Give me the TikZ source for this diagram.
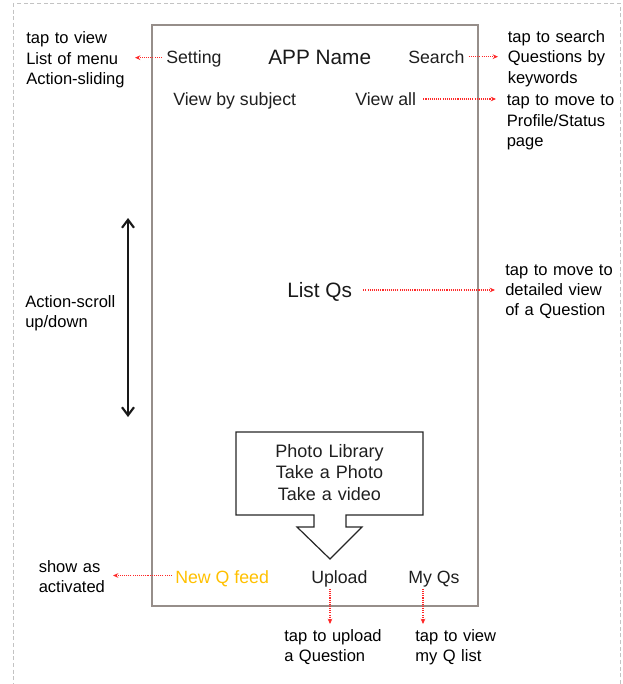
\documentclass[tikz,border=0pt]{standalone}
\usepackage{fontspec}
\setmainfont{Liberation Sans}
\usetikzlibrary{arrows.meta}
\definecolor{framec}{RGB}{150,142,138}
\definecolor{activec}{RGB}{255,192,0}
\definecolor{outerc}{RGB}{195,195,195}
\definecolor{tapc}{RGB}{255,40,40}
\begin{document}
\begin{tikzpicture}[x=0.75pt,y=-0.75pt,
  lbl/.style={font=\fontsize{13.3}{16}\selectfont, text=black!88, inner sep=0, anchor=base west},
  big/.style={font=\fontsize{15.6}{18}\selectfont, text=black!90, inner sep=0, anchor=base west},
  note/.style={font=\fontsize{12.4}{15.2}\selectfont, align=left, text width=100pt, inner sep=0, anchor=base west},
  tapline/.style={tapc, dash pattern=on 0.8pt off 0.8pt, line width=0.9pt, -{Stealth[length=4pt,width=3.5pt]}},
]
\useasboundingbox (0,0) rectangle (623,684);
% outer dashed frame
\draw[outerc, dash pattern=on 3pt off 2pt, line width=0.6pt] (13,3) rectangle (620,700);
% phone frame
\draw[framec, line width=1pt] (152,25) rectangle (478,606);

% top labels
\node[lbl] (setting) at (166,64) {Setting};
\node[big] (appname) at (268,64.5) {APP Name};
\node[lbl] (search) at (408,64) {Search};
\node[lbl] (bysubject) at (173,106) {View by subject};
\node[lbl] (viewall) at (355,106) {View all};
\node[big] (listqs) at (287,297) {List Qs};

% bottom labels
\node[lbl, text=activec] (newq) at (175,583) {New Q feed};
\node[lbl] (upload) at (311,583) {Upload};
\node[lbl] (myqs) at (408,583) {My Qs};

% annotations
\node[note] (nsetting) at (26,44) {tap to view\\List of menu\\Action-sliding};
\node[note] (nsearch) at (507.5,42.5) {tap to search\\Questions by\\keywords};
\node[note] (nviewall) at (506.5,106) {tap to move to\\Profile/Status\\page};
\node[note] (nlist) at (505,275) {tap to move to\\detailed view\\of a Question};
\node[note] (nscroll) at (25,307) {Action-scroll\\up/down};
\node[note] (nnewq) at (38.5,572) {show as\\activated};
\node[note] (nupload) at (284,641) {tap to upload\\a Question};
\node[note] (nmyqs) at (415,641) {tap to view\\my Q list};

% arrow end points
\coordinate (esetting) at (135,57.7);
\coordinate (esearch) at (498,56.7);
\coordinate (eviewall) at (496,99);
\coordinate (elist) at (495,290);
\coordinate (enewq) at (113,575.5);
\coordinate (eupload) at (330,624);
\coordinate (emyqs) at (423,624);

\draw[tapline] (setting.west |- esetting) ++(-4,0) -- (esetting);
\draw[tapline] (search.east |- esearch) ++(4,0) -- (esearch);
\draw[tapline] (viewall.east |- eviewall) ++(7,0) -- (eviewall);
\draw[tapline] (listqs.east |- elist) ++(11,0) -- (elist);
\draw[tapline] (newq.west |- enewq) ++(-3,0) -- (enewq);
\draw[tapline] (eupload |- upload.south) ++(0,2) -- (eupload);
\draw[tapline] (emyqs |- myqs.south) ++(0,2) -- (emyqs);

% scroll double arrow
\coordinate (stop) at (128,218);
\coordinate (sbot) at (128,417);
\draw[black!90, line width=1.6pt, {Straight Barb[length=6pt,width=9pt]}-{Straight Barb[length=6pt,width=9pt]}] (stop) -- (sbot);

% callout
\draw[black!85, line width=0.9pt, line join=miter]
  (236,432) -- (423,432) -- (423,515) -- (346,515) -- (346,527) -- (362,527)
  -- (330,559) -- (297,527) -- (314,527) -- (314,515) -- (236,515) -- cycle;
\node[font=\fontsize{13.5}{16.3}\selectfont, align=center, text width=150pt, inner sep=0, anchor=base, text=black!88]
  (menu) at (329.5,457) {Photo Library\\Take a Photo\\Take a video};
\end{tikzpicture}
\end{document}
